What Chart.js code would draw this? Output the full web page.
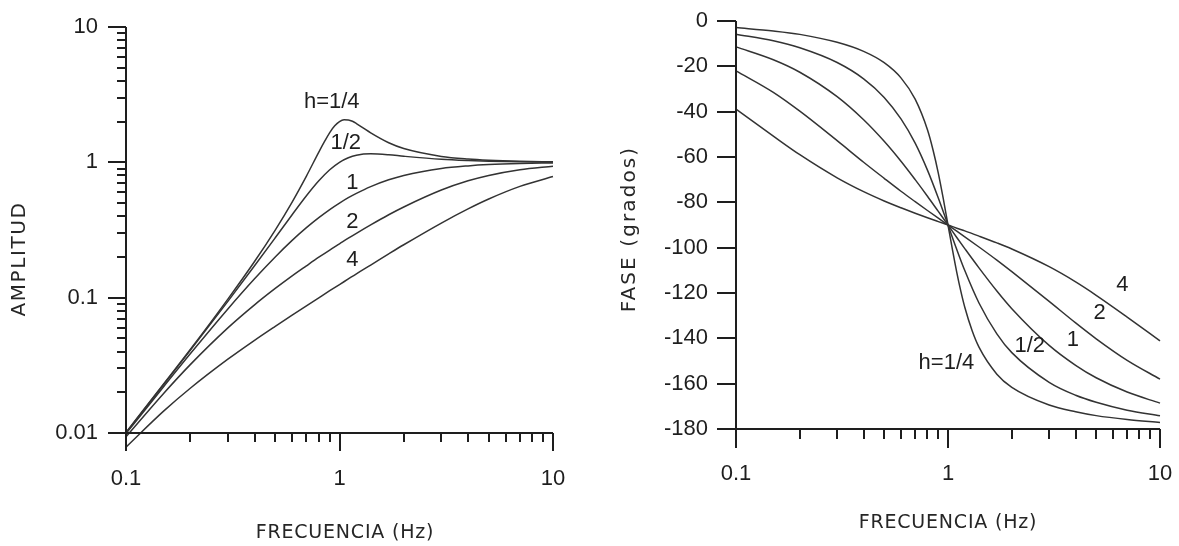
<!DOCTYPE html>
<html>
<head>
<meta charset="utf-8">
<title>Respuesta del sismómetro</title>
<script src="https://cdn.jsdelivr.net/npm/chart.js@4.4.1/dist/chart.umd.min.js"></script>
<style>
  html, body { margin: 0; padding: 0; background: #fff; }
  #wrap { position: relative; width: 1179px; height: 546px; }
  canvas { position: absolute; top: 0; }
  #amp { left: 0; }
  #fase { left: 590px; }
</style>
</head>
<body>
<div id="wrap">
  <canvas id="amp" width="590" height="546"></canvas>
  <canvas id="fase" width="589" height="546"></canvas>
</div>
<script>
// frecuencias (Hz) donde se leyeron las curvas
const freq = [0.1, 0.15, 0.2, 0.3, 0.4, 0.5, 0.6, 0.7, 0.8, 0.9, 1, 1.1, 1.2, 1.4, 1.7, 2, 3, 4, 5, 7, 10];
// h=1/4 tiene un pico marcado, se leyó con mas puntos cerca de 1 Hz
const freqQ = [0.1, 0.15, 0.2, 0.3, 0.4, 0.5, 0.6, 0.7, 0.8, 0.85, 0.9, 0.95, 1, 1.05, 1.1, 1.15, 1.2, 1.3, 1.4, 1.7, 2, 3, 4, 5, 7, 10];

// amplitud
const ampQ    = [0.0101, 0.0230, 0.0414, 0.0976, 0.185, 0.316, 0.509, 0.792, 1.19, 1.42, 1.66, 1.86, 2.0, 2.06, 2.055, 2.01, 1.935, 1.78, 1.65, 1.395, 1.265, 1.106, 1.057, 1.036, 1.018, 1.009];
const ampHalf = [0.01005, 0.0228, 0.0408, 0.0939, 0.172, 0.277, 0.410, 0.566, 0.730, 0.881, 1.0, 1.08, 1.127, 1.155, 1.137, 1.109, 1.053, 1.031, 1.020, 1.010, 1.005];
const amp1    = [0.0099, 0.0220, 0.0385, 0.0826, 0.138, 0.200, 0.265, 0.329, 0.390, 0.448, 0.500, 0.548, 0.590, 0.662, 0.743, 0.800, 0.900, 0.941, 0.962, 0.980, 0.990];
const amp2    = [0.00937, 0.0196, 0.0320, 0.0598, 0.0885, 0.117, 0.145, 0.172, 0.199, 0.225, 0.250, 0.275, 0.299, 0.345, 0.410, 0.468, 0.624, 0.730, 0.800, 0.882, 0.937];
const amp4    = [0.00786, 0.0145, 0.0214, 0.0351, 0.0484, 0.0614, 0.0743, 0.0871, 0.0998, 0.1125, 0.125, 0.1375, 0.150, 0.174, 0.2105, 0.246, 0.356, 0.453, 0.536, 0.664, 0.786];

// fase (grados)
const faseQ    = [-2.9, -4.4, -5.9, -9.4, -13.4, -18.4, -25.1, -34.5, -48.0, -56.9, -67.1, -78.4, -90, -101.0, -110.9, -119.3, -126.3, -136.7, -143.9, -155.8, -161.6, -169.4, -172.4, -174.1, -175.8, -177.1];
const faseHalf = [-5.8, -8.7, -11.8, -18.3, -25.5, -33.7, -43.2, -53.9, -65.8, -78.1, -90, -100.8, -110.1, -124.4, -138.0, -146.3, -159.4, -165.1, -168.2, -171.7, -174.2];
const fase1    = [-11.4, -17.1, -22.6, -33.4, -43.6, -53.1, -61.9, -70.0, -77.3, -84.0, -90, -95.5, -100.4, -108.9, -119.1, -126.9, -143.1, -151.9, -157.4, -163.7, -168.6];
const fase2    = [-22.0, -31.5, -39.8, -52.8, -62.3, -69.4, -75.1, -79.7, -83.6, -87.0, -90, -92.7, -95.2, -99.7, -105.5, -110.6, -123.7, -133.2, -140.2, -149.7, -158.0];
const fase4    = [-38.9, -50.8, -59.0, -69.2, -75.3, -79.4, -82.4, -84.8, -86.8, -88.5, -90, -91.4, -92.6, -94.9, -97.9, -100.6, -108.4, -115.1, -121.0, -130.6, -141.1];

// etiquetas de las curvas (en unidades de los ejes)
const curveNames = ['h=1/4', '1/2', '1', '2', '4'];
const ampLabelF  = [0.92, 1.07, 1.15, 1.15, 1.15];
const ampLabelV  = [2.8, 1.38, 0.70, 0.363, 0.189];
const faseLabelF = [0.983, 2.43, 3.88, 5.19, 6.64];
const faseLabelV = [-151, -143.4, -140.7, -129, -116.5];

const INK = '#1e1e1e';
const LINE = '#333';
const tickFont = { family: '"Liberation Sans", Arial, sans-serif', size: 22 };

// marcas de escala log: 1..9 por decada, mayores en las potencias de 10
function logTicks(lo, hi) {
  const out = [];
  for (let d = lo; d < hi * 0.999; d *= 10) {
    for (let m = 1; m < 10; m++) out.push({ value: +(d * m).toPrecision(3), major: m === 1 });
  }
  out.push({ value: hi, major: true });
  return out;
}

function series(xs, ys) {
  return xs.map((f, i) => ({ x: f, y: ys[i] }));
}

function lineSet(xs, ys) {
  return {
    data: series(xs, ys),
    borderColor: LINE,
    borderWidth: 1.5,
    pointRadius: 0,
    fill: false,
    clip: false,
    cubicInterpolationMode: 'monotone'
  };
}

const frame = {
  id: 'frame',
  afterDatasetsDraw(chart, args, o) {
    const { ctx, chartArea: a } = chart;
    const x = chart.scales.x, y = chart.scales.y;
    const isMajor = (s, t) => s.type !== 'logarithmic' || t.major;
    ctx.save();
    ctx.strokeStyle = INK;
    ctx.lineWidth = 2;
    ctx.beginPath();
    ctx.moveTo(a.left, a.top);
    ctx.lineTo(a.left, a.bottom);
    ctx.lineTo(a.right, a.bottom);
    x.ticks.forEach(t => {
      const px = Math.round(x.getPixelForValue(t.value));
      ctx.moveTo(px, a.bottom);
      ctx.lineTo(px, a.bottom + (isMajor(x, t) ? o.major : o.minor));
    });
    y.ticks.forEach(t => {
      const py = Math.round(y.getPixelForValue(t.value));
      ctx.moveTo(a.left, py);
      ctx.lineTo(a.left - (isMajor(y, t) ? o.major : o.minor), py);
    });
    ctx.stroke();

    ctx.fillStyle = INK;
    ctx.font = '22px "Liberation Sans", Arial, sans-serif';
    ctx.textAlign = 'center';
    ctx.textBaseline = 'middle';
    o.names.forEach((txt, i) => {
      ctx.fillText(txt, x.getPixelForValue(o.lx[i]), y.getPixelForValue(o.ly[i]));
    });

    ctx.fillStyle = '#262626';
    ctx.font = '19px "DejaVu Sans", sans-serif';
    ctx.letterSpacing = o.xTitle[3] + 'px';
    ctx.fillText(o.xTitle[0], o.xTitle[1], o.xTitle[2]);
    ctx.translate(o.yTitle[1], o.yTitle[2]);
    ctx.rotate(-Math.PI / 2);
    ctx.font = '20px "DejaVu Sans", sans-serif';
    ctx.letterSpacing = o.yTitle[3] + 'px';
    ctx.fillText(o.yTitle[0], 0, 0);
    ctx.restore();
  }
};

function makeChart(id, datasets, yScale, sizes, frameOpts) {
  return new Chart(document.getElementById(id), {
    type: 'line',
    data: { datasets: datasets },
    plugins: [frame],
    options: {
      responsive: false,
      animation: false,
      events: [],
      layout: { padding: { top: sizes.top, right: sizes.right, left: 0, bottom: 0 } },
      plugins: { legend: { display: false }, tooltip: { enabled: false }, frame: frameOpts },
      scales: {
        x: {
          type: 'logarithmic',
          min: 0.1,
          max: 10,
          afterBuildTicks: s => { s.ticks = logTicks(0.1, 10); },
          afterFit: s => { s.height = sizes.xh; s.paddingLeft = 0; s.paddingRight = 0; },
          grid: { display: false },
          border: { display: false },
          ticks: {
            autoSkip: false,
            maxRotation: 0,
            padding: sizes.xpad,
            font: tickFont,
            color: INK,
            callback: (v, i, ts) => ts[i].major ? String(v) : ''
          }
        },
        y: Object.assign({
          afterFit: s => { s.width = sizes.yw; s.paddingTop = 0; s.paddingBottom = 0; },
          grid: { display: false },
          border: { display: false }
        }, yScale)
      }
    }
  });
}

makeChart('amp',
  [lineSet(freqQ, ampQ), lineSet(freq, ampHalf), lineSet(freq, amp1), lineSet(freq, amp2), lineSet(freq, amp4)],
  {
    type: 'logarithmic',
    min: 0.01,
    max: 10,
    afterBuildTicks: s => { s.ticks = logTicks(0.01, 10); },
    ticks: {
      autoSkip: false,
      padding: 20,
      font: tickFont,
      color: INK,
      callback: (v, i, ts) => ts[i].major ? String(v) : ''
    }
  },
  { top: 27, right: 37, xh: 113, yw: 126, xpad: 25 },
  {
    major: 18, minor: 9,
    names: curveNames, lx: ampLabelF, ly: ampLabelV,
    xTitle: ['FRECUENCIA (Hz)', 345, 533, 0.8],
    yTitle: ['AMPLITUD', 20, 259, 1.6]
  }
);

makeChart('fase',
  [lineSet(freqQ, faseQ), lineSet(freq, faseHalf), lineSet(freq, fase1), lineSet(freq, fase2), lineSet(freq, fase4)],
  {
    type: 'linear',
    min: -180,
    max: 0,
    ticks: {
      stepSize: 20,
      padding: 20,
      font: tickFont,
      color: INK,
      callback: v => String(v)
    }
  },
  { top: 21, right: 19, xh: 117, yw: 146, xpad: 24 },
  {
    major: 19, minor: 10,
    names: curveNames, lx: faseLabelF, ly: faseLabelV,
    xTitle: ['FRECUENCIA (Hz)', 358, 523, 0.8],
    yTitle: ['FASE (grados)', 40, 229, 2.1]
  }
);
</script>
</body>
</html>
